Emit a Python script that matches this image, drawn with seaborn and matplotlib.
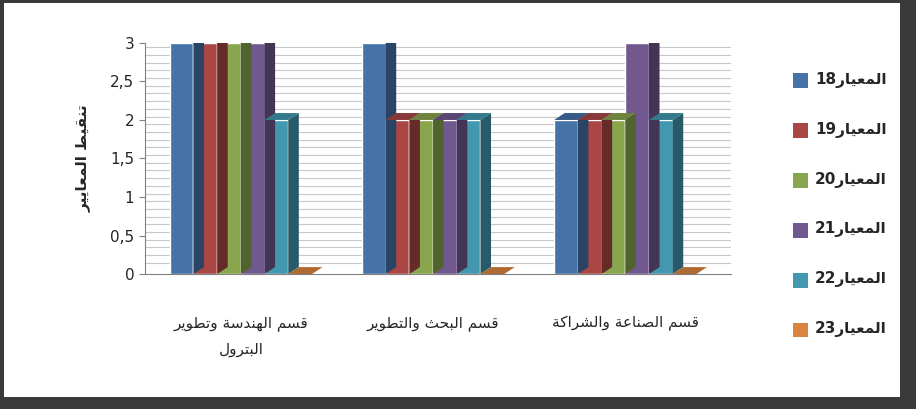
import numpy as np
import pandas as pd
import matplotlib
matplotlib.use('Agg')
import matplotlib.pyplot as plt
import seaborn as sns
from matplotlib.patches import Polygon, Rectangle

## __DATA__________________________
departments = ['قسم الهندسة وتطوير\nالبترول', 'قسم البحث والتطوير', 'قسم الصناعة والشراكة']
criteria = ['18', '19', '20', '21', '22', '23']
scores = {
    '18': [3, 3, 2],
    '19': [3, 2, 2],
    '20': [3, 2, 2],
    '21': [3, 2, 3],
    '22': [2, 2, 2],
    '23': [0, 0, 0],
}
colors = ['#4572a7', '#aa4643', '#89a54e', '#71588f', '#4198af', '#db843d']
y_label = 'تنقيط المعايير'
crit_word = 'المعيار'

## __ARABIC SHAPING (matplotlib has no bidi)__________________________
ISO = {'ا': 0xFE8D, 'ب': 0xFE8F, 'ة': 0xFE93, 'ت': 0xFE95, 'ث': 0xFE99, 'ح': 0xFEA1,
       'د': 0xFEA9, 'ر': 0xFEAD, 'س': 0xFEB1, 'ش': 0xFEB5, 'ص': 0xFEB9, 'ط': 0xFEC1,
       'ع': 0xFEC9, 'ف': 0xFED1, 'ق': 0xFED5, 'ك': 0xFED9, 'ل': 0xFEDD, 'م': 0xFEE1,
       'ن': 0xFEE5, 'ه': 0xFEE9, 'و': 0xFEED, 'ي': 0xFEF1}
NONJOIN = set('اةدرو')


def shape(text):
    out = []
    for i, c in enumerate(text):
        if c not in ISO:
            out.append(c)
            continue
        prev = text[i - 1] if i > 0 else ''
        nxt = text[i + 1] if i + 1 < len(text) else ''
        jp = prev in ISO and prev not in NONJOIN
        jn = nxt in ISO and c not in NONJOIN
        off = {(False, False): 0, (True, False): 1, (False, True): 2, (True, True): 3}[(jp, jn)]
        out.append(chr(ISO[c] + off))
    return ''.join(out)[::-1]


def ar(text):
    return '\n'.join(shape(l) for l in text.split('\n'))


## __PLOT__________________________
rows = []
for c in criteria:
    for d, v in zip(departments, scores[c]):
        rows.append({'dept': d, 'crit': c, 'score': v})
df = pd.DataFrame(rows)

sns.set_style('white')
plt.rcParams['font.family'] = ['DejaVu Sans']

fig = plt.figure(figsize=(9.16, 4.09), dpi=100, facecolor='#3a3a3a')
fig.patches.append(Rectangle((0.004, 0.03), 0.978, 0.962, transform=fig.transFigure,
                             facecolor='white', edgecolor='none', zorder=-1))
ax = fig.add_axes([0.158, 0.33, 0.64, 0.565])
ax.set_facecolor('white')

sns.barplot(data=df, x='dept', y='score', hue='crit', palette=colors, width=0.74,
            saturation=1, ax=ax, legend=False, order=departments, hue_order=criteria)

# fake 3d depth
dx, dy = 0.055, 0.09
for bar in ax.patches:
    x, w, h = bar.get_x(), bar.get_width(), bar.get_height()
    col = np.array(bar.get_facecolor()[:3])
    ax.add_patch(Polygon([(x + w, 0), (x + w + dx, dy), (x + w + dx, h + dy), (x + w, h)],
                         closed=True, facecolor=col * 0.6, edgecolor='none', zorder=2))
    ax.add_patch(Polygon([(x, h), (x + dx, h + dy), (x + w + dx, h + dy), (x + w, h)],
                         closed=True, facecolor=col * 0.8, edgecolor='none', zorder=2))

ax.set_ylim(0, 3.0)
ax.set_xlim(-0.5, 2.55)
for g in np.arange(0.1, 3.15, 0.1):
    ax.axhline(g + dy * 0.5, color='#c8c8c8', lw=0.8, zorder=0)
ax.set_yticks(np.arange(0, 3.01, 0.5))
ax.set_yticklabels(['0', '0,5', '1', '1,5', '2', '2,5', '3'], fontsize=11)
ax.set_xticks([0, 1, 2])
ax.set_xticklabels([ar(d) for d in departments], fontsize=11, linespacing=1.9)
ax.set_xticks([-0.5, 0.5, 1.5, 2.5], minor=True)
ax.tick_params(axis='x', which='major', length=0, pad=30)
ax.tick_params(axis='x', which='minor', length=5, color='#808080')
ax.tick_params(axis='y', length=4, color='#808080', left=True)
ax.set_xlabel('')
ax.set_ylabel(ar(y_label), fontsize=11, fontweight='bold', labelpad=14)
for s in ['top', 'right']:
    ax.spines[s].set_visible(False)
for s in ['left', 'bottom']:
    ax.spines[s].set_color('#808080')

# legend
for i, (c, col) in enumerate(zip(criteria, colors)):
    yy = 0.805 - i * 0.122
    fig.patches.append(Rectangle((0.866, yy - 0.02), 0.016, 0.036, transform=fig.transFigure,
                                 facecolor=col, edgecolor='none'))
    fig.text(0.89, yy, c + ar(crit_word), fontsize=11, fontweight='bold', va='center', ha='left')

fig.savefig('out.png', dpi=100, facecolor=fig.get_facecolor())
